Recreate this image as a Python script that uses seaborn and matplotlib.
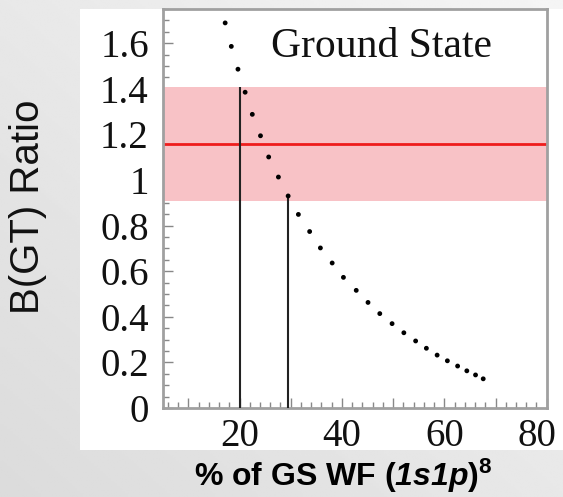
import numpy as np
import pandas as pd
import matplotlib
matplotlib.use("Agg")
import matplotlib.pyplot as plt
import matplotlib.transforms as mtransforms
import seaborn as sns
from matplotlib.ticker import MultipleLocator

# ---- data ----
gs_percent = [17.2, 18.4, 19.7, 21.1, 22.5, 24.1, 25.7, 27.6, 29.5, 31.5,
              33.7, 35.8, 38.1, 40.3, 42.8, 45.1, 47.4, 49.8, 52.1, 54.4,
              56.5, 58.6, 60.6, 62.6, 64.4, 66.1, 67.6]
bgt_ratio = [1.689, 1.586, 1.486, 1.385, 1.288, 1.194, 1.101, 1.013, 0.930, 0.849,
             0.774, 0.702, 0.636, 0.573, 0.516, 0.463, 0.414, 0.370, 0.330, 0.294,
             0.262, 0.232, 0.207, 0.184, 0.163, 0.145, 0.128]
exp_value = 1.16
exp_low = 0.907
exp_high = 1.41
cut_x = [20.0, 29.5]
cut_top = [1.41, 0.92]
x_ticklabels = [20, 40, 60, 80]
y_ticklabels = [0, 0.2, 0.4, 0.6, 0.8, 1, 1.2, 1.4, 1.6]

df = pd.DataFrame({"x": gs_percent, "y": bgt_ratio})

sns.set_theme(style="white")
plt.rcParams["mathtext.fontset"] = "custom"
plt.rcParams["mathtext.bf"] = "Liberation Sans:bold"
plt.rcParams["mathtext.bfit"] = "Liberation Sans:italic:bold"
plt.rcParams["mathtext.it"] = "Liberation Sans:italic"
plt.rcParams["mathtext.rm"] = "Liberation Sans"

W, H = 563, 497
fig = plt.figure(figsize=(W / 100, H / 100), dpi=100)

# gradient background
bg = fig.add_axes([0, 0, 1, 1], zorder=-10)
yy, xx = np.mgrid[0:1:200j, 0:1:200j]
grad = 0.86 + 0.10 * (0.5 * xx + 0.5 * yy)
bg.imshow(grad, cmap="gray", vmin=0, vmax=1, aspect="auto", extent=[0, 1, 0, 1], origin="lower")
bg.set_xlim(0, 1); bg.set_ylim(0, 1)
bg.axis("off")
bg.add_patch(plt.Rectangle((80 / W, (H - 450) / H), 1, (450 - 9) / H,
                           facecolor="white", edgecolor="none", transform=bg.transAxes))

left, right, top, bottom = 162.7, 546.7, 9, 408
ax = fig.add_axes([left / W, (H - bottom) / H, (right - left) / W, (bottom - top) / H])
ax.set_facecolor("white")

ax.axhspan(exp_low, exp_high, color="#f8c2c6", lw=0, zorder=1)
ax.axhline(exp_value, color="#ee1c1c", lw=2, zorder=2)
ax.vlines(cut_x, [0, 0], cut_top, colors="#222222", lw=1.5, zorder=3)
sns.scatterplot(data=df, x="x", y="y", ax=ax, color="black", s=12,
                edgecolor="none", zorder=4, legend=False)

ax.set_xlim(5, 80)
ax.set_ylim(0, 1.75)
ax.xaxis.set_minor_locator(MultipleLocator(2))
ax.yaxis.set_minor_locator(MultipleLocator(0.05))
major_x = list(range(10, 81, 10))
ax.set_xticks(major_x)
ax.set_xticklabels([str(v) if v in x_ticklabels else "" for v in major_x],
                   family="Liberation Serif", fontsize=28)
ax.set_yticks(y_ticklabels)
ax.set_yticklabels([f"{v:g}" for v in y_ticklabels], family="Liberation Serif", fontsize=28)
ax.tick_params(which="both", direction="in", color="#888888", top=False, right=False,
               left=True, bottom=True, labelcolor="#111111")
ax.tick_params(which="major", length=7, width=1)
ax.tick_params(which="minor", length=4, width=1)
ax.tick_params(axis="y", pad=10)
ax.tick_params(axis="x", pad=7)
for s in ax.spines.values():
    s.set_color("#a0a0a0")
    s.set_linewidth(2)

# last x label nudged left so it stays inside the panel
last = ax.get_xticklabels()[-1]
last.set_transform(last.get_transform() + mtransforms.ScaledTranslation(-10 / 100, 0, fig.dpi_scale_trans))

ax.set_xlabel("")
ax.set_ylabel("")
ax.text(0.57, 0.905, "Ground State", transform=ax.transAxes, ha="center", va="center",
        family="Liberation Serif", fontsize=30, color="#111111")

fig.text(28 / W, 1 - 207 / H, "B(GT) Ratio", rotation=90, ha="center", va="center",
         family="Liberation Sans", fontsize=29, color="#111111")
fig.text(343 / W, 1 - 476 / H, r"% of GS WF ($\mathbfit{1s1p}$)$^{\mathbf{8}}$",
         ha="center", va="center", family="Liberation Sans", fontweight="bold",
         fontsize=23, color="black")

fig.savefig("out.png", dpi=100)
